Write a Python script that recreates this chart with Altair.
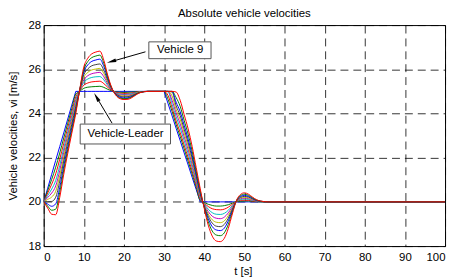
import altair as alt
import pandas as pd

# ---------------- data ----------------
T = [0, 1, 2, 3, 4, 5, 6, 7, 8, 9, 10, 11, 12, 13, 14, 15, 16, 17, 18, 19, 20, 21, 22, 23, 24, 26, 30,
     31, 32, 33, 34, 35, 36, 37, 38, 39, 40, 41, 42, 43, 44, 45, 46, 47, 48, 49, 50, 51, 52, 53, 54, 56, 100]

LEADER = [20, 20.62, 21.25, 21.88, 22.5, 23.12, 23.75, 24.38, 25, 25, 25, 25, 25, 25, 25, 25, 25, 25, 25, 25,
          25, 25, 25, 25, 25, 25, 25,
          24.44, 23.89, 23.33, 22.78, 22.22, 21.67, 21.11, 20.56, 20, 20, 20, 20, 20, 20, 20, 20, 20, 20, 20,
          20, 20, 20, 20, 20, 20, 20]

V1 = [20, 20.51, 21.02, 21.57, 22.21, 22.89, 23.56, 24.22, 24.88, 25.01, 25.14, 25.19, 25.21, 25.22, 25.23,
      25.18, 25.09, 25.02, 24.98, 24.96, 24.95, 24.96, 24.97, 24.98, 24.99, 25, 25,
      24.63, 24.09, 23.50, 22.97, 22.40, 21.84, 21.26, 20.66, 20.06, 19.97, 19.89, 19.84, 19.81, 19.81, 19.83,
      19.87, 19.94, 20.01, 20.03, 20.04, 20.04, 20.02, 20.01, 20.0, 20, 20]
V2 = [20, 20.40, 20.80, 21.27, 21.93, 22.65, 23.36, 24.06, 24.75, 25.03, 25.28, 25.38, 25.43, 25.45, 25.46,
      25.35, 25.18, 25.04, 24.96, 24.92, 24.91, 24.91, 24.93, 24.96, 24.99, 25, 25,
      24.81, 24.25, 23.66, 23.14, 22.57, 22.00, 21.39, 20.76, 20.12, 19.94, 19.79, 19.69, 19.65, 19.64, 19.67,
      19.76, 19.89, 20.01, 20.07, 20.08, 20.07, 20.04, 20.02, 20.01, 20, 20]
V3 = [20, 20.29, 20.58, 20.97, 21.65, 22.43, 23.18, 23.91, 24.63, 25.04, 25.41, 25.56, 25.63, 25.66, 25.67,
      25.52, 25.26, 25.06, 24.93, 24.88, 24.86, 24.87, 24.90, 24.94, 24.98, 25, 25,
      24.98, 24.41, 23.85, 23.35, 22.77, 22.18, 21.55, 20.87, 20.19, 19.91, 19.67, 19.51, 19.44, 19.43, 19.48,
      19.62, 19.83, 20.02, 20.10, 20.13, 20.11, 20.07, 20.03, 20.01, 20, 20]
V4 = [20, 20.20, 20.40, 20.72, 21.42, 22.24, 23.02, 23.78, 24.53, 25.05, 25.52, 25.71, 25.80, 25.84, 25.86,
      25.66, 25.33, 25.07, 24.92, 24.84, 24.83, 24.83, 24.87, 24.92, 24.97, 25, 25,
      25.0, 24.59, 24.02, 23.54, 22.95, 22.36, 21.69, 20.98, 20.25, 19.87, 19.56, 19.35, 19.26, 19.24, 19.31,
      19.50, 19.77, 20.02, 20.14, 20.17, 20.15, 20.09, 20.04, 20.02, 20, 20]
V5 = [20, 20.11, 20.22, 20.48, 21.19, 22.05, 22.87, 23.65, 24.43, 25.06, 25.63, 25.86, 25.97, 26.01, 26.04,
      25.80, 25.40, 25.09, 24.90, 24.81, 24.79, 24.79, 24.84, 24.91, 24.97, 25, 25,
      25.0, 24.79, 24.18, 23.73, 23.12, 22.52, 21.83, 21.08, 20.31, 19.84, 19.45, 19.19, 19.08, 19.06, 19.14,
      19.38, 19.71, 20.03, 20.17, 20.21, 20.18, 20.11, 20.05, 20.02, 20, 20]
V6 = [20, 20.01, 20.02, 20.21, 20.94, 21.85, 22.70, 23.51, 24.32, 25.07, 25.75, 26.02, 26.16, 26.21, 26.24,
      25.95, 25.48, 25.10, 24.88, 24.78, 24.75, 24.76, 24.81, 24.89, 24.96, 25, 25,
      25.0, 24.97, 24.35, 23.91, 23.29, 22.68, 21.97, 21.17, 20.37, 19.81, 19.35, 19.04, 18.90, 18.88, 18.98,
      19.26, 19.66, 20.03, 20.20, 20.25, 20.22, 20.14, 20.06, 20.02, 20, 20]
V7 = [20, 19.90, 19.80, 19.91, 20.66, 21.62, 22.51, 23.36, 24.20, 25.08, 25.88, 26.20, 26.36, 26.42, 26.46,
      26.12, 25.56, 25.12, 24.86, 24.74, 24.70, 24.71, 24.78, 24.87, 24.95, 25, 25,
      25.0, 25.0, 24.51, 24.09, 23.47, 22.84, 22.11, 21.27, 20.43, 19.78, 19.24, 18.88, 18.73, 18.70, 18.81,
      19.14, 19.60, 20.04, 20.24, 20.30, 20.25, 20.16, 20.07, 20.03, 20, 20]
V8 = [20, 19.81, 19.62, 19.67, 20.43, 21.44, 22.36, 23.23, 24.10, 25.09, 25.99, 26.35, 26.53, 26.60, 26.64,
      26.26, 25.63, 25.14, 24.84, 24.70, 24.67, 24.68, 24.75, 24.86, 24.95, 25, 25,
      25.0, 25.0, 24.72, 24.33, 23.69, 23.06, 22.29, 21.40, 20.51, 19.75, 19.11, 18.68, 18.50, 18.47, 18.60,
      18.98, 19.53, 20.04, 20.28, 20.35, 20.30, 20.19, 20.09, 20.03, 20, 20]
V9 = [20, 19.72, 19.44, 19.42, 20.20, 21.25, 22.20, 23.10, 24.00, 25.10, 26.10, 26.50, 26.70, 26.78, 26.82,
      26.40, 25.70, 25.15, 24.82, 24.67, 24.63, 24.64, 24.72, 24.84, 24.94, 25, 25,
      25.0, 25.0, 24.97, 24.60, 23.95, 23.30, 22.50, 21.55, 20.60, 19.70, 18.95, 18.45, 18.23, 18.20, 18.35,
      18.80, 19.45, 20.05, 20.33, 20.41, 20.35, 20.22, 20.10, 20.04, 20, 20]

SERIES = [("Leader", LEADER), ("V1", V1), ("V2", V2), ("V3", V3), ("V4", V4), ("V5", V5),
          ("V6", V6), ("V7", V7), ("V8", V8), ("V9", V9)]
COLORS = ["#0000FF", "#008000", "#FF0000", "#00BFBF", "#BF00BF", "#BFBF00", "#404040",
          "#0000FF", "#008000", "#FF0000"]

X_TICKS = [0, 10, 20, 30, 40, 50, 60, 70, 80, 90, 100]
Y_TICKS = [18, 20, 22, 24, 26, 28]

TITLE = "Absolute vehicle velocities"
X_TITLE = "t [s]"
Y_TITLE = "Vehicle velocities, vi [m/s]"

# annotation boxes / labels / arrows (data units)
BOX_LABELS = ["Vehicle 9", "Vehicle-Leader"]
BOX_T = [26.2, 9.1]
BOX_T2 = [41.7, 31.6]
BOX_V = [27.24, 23.52]
BOX_V2 = [26.48, 22.62]
LABEL_T = [34.0, 20.4]
LABEL_V = [26.86, 23.07]
ARROW_T = [25.36, 17.04]
ARROW_V = [26.79, 23.56]
ARROW_T2 = [16.87, 13.16]
ARROW_V2 = [26.35, 24.74]
HEAD_ANGLE = [254, 329]

FONT = "Liberation Sans"

x_enc = alt.X("t:Q", title=X_TITLE,
              scale=alt.Scale(domain=[0, 100], nice=False, zero=False),
              axis=alt.Axis(values=X_TICKS, titleX=201, titleY=29, titleAlign="center",
                            titleBaseline="alphabetic", labelPadding=6))
y_enc = alt.Y("v:Q", title=Y_TITLE,
              scale=alt.Scale(domain=[18, 28], nice=False, zero=False),
              axis=alt.Axis(values=Y_TICKS, titleX=-30, titleY=111.5, titleAngle=270,
                            titleAlign="center", titleBaseline="middle", labelPadding=3))

layers = []
for (name, vals), col in zip(SERIES, COLORS):
    df = pd.DataFrame({"t": T, "v": vals})
    layers.append(
        alt.Chart(df).mark_line(color=col, strokeWidth=1,
                                interpolate="linear" if name == "Leader" else "monotone",
                                clip=True).encode(x=x_enc, y=y_enc)
    )

boxes = pd.DataFrame({"t": BOX_T, "t2": BOX_T2, "v": BOX_V, "v2": BOX_V2})
labels = pd.DataFrame({"t": LABEL_T, "v": LABEL_V, "label": BOX_LABELS})
arrows = pd.DataFrame({"t": ARROW_T, "v": ARROW_V, "t2": ARROW_T2, "v2": ARROW_V2})
title_df = pd.DataFrame({"t": [50], "v": [28], "label": [TITLE]})

layers.append(alt.Chart(arrows).mark_rule(color="black", strokeWidth=1).encode(
    x=x_enc, y=y_enc, x2="t2:Q", y2="v2:Q"))
for i in range(2):
    head = pd.DataFrame({"t": [ARROW_T2[i]], "v": [ARROW_V2[i]]})
    layers.append(alt.Chart(head).mark_point(
        shape="M0,-1L0.4,1L-0.4,1Z", filled=True, color="black", opacity=1,
        size=90, angle=HEAD_ANGLE[i]).encode(x=x_enc, y=y_enc))
layers.append(alt.Chart(boxes).mark_rect(fill="white", stroke="#555555", strokeWidth=1).encode(
    x=x_enc, y=y_enc, x2="t2:Q", y2="v2:Q"))
layers.append(alt.Chart(labels).mark_text(font=FONT, fontSize=11.5, color="black").encode(
    x=x_enc, y=y_enc, text="label:N"))
# chart title, placed just above the plot frame
layers.append(alt.Chart(title_df).mark_text(font=FONT, fontSize=11.5, color="black",
                                            baseline="alphabetic", dy=-8).encode(
    x=x_enc, y=y_enc, text="label:N"))

chart = alt.layer(*layers).properties(
    width=405, height=223,
    autosize=alt.AutoSizeParams(type="none"),
    padding={"left": 36, "top": 16, "right": 4, "bottom": 33},
).configure_view(
    stroke="black", strokeWidth=1
).configure_axis(
    domain=False, ticks=False, tickSize=0,
    labelFont=FONT, labelFontSize=11.5, labelColor="black",
    titleFont=FONT, titleFontSize=11.5, titleFontWeight="normal", titleColor="black",
    grid=True, gridColor="black", gridDash=[8, 5], gridWidth=0.8, gridOpacity=1,
)

chart.save("out.html", embed_options={"renderer": "svg", "actions": False})
